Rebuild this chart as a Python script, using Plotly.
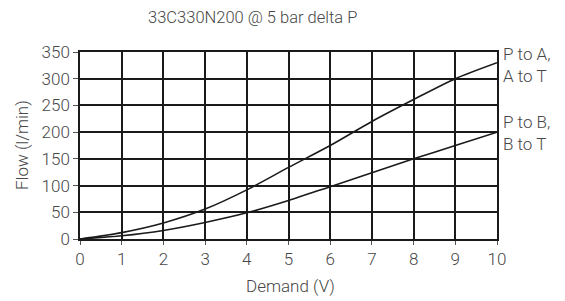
import plotly.graph_objects as go

demand = [0, 1, 2, 3, 4, 5, 6, 7, 8, 9, 10]
flow_p_to_a = [0, 12, 30, 56, 92, 134, 175, 220, 261, 300, 330]
flow_p_to_b = [0, 6, 16, 31, 49, 72, 98, 124, 150, 175, 200]
x_ticks = list(range(0, 11))
y_ticks = [0, 50, 100, 150, 200, 250, 300, 350]

TXT = "#474747"
FONT = "Roboto, Liberation Sans, sans-serif"
W = 300

fig = go.Figure()
for ys in (flow_p_to_a, flow_p_to_b):
    fig.add_trace(go.Scatter(x=demand, y=ys, mode="lines",
                             line=dict(color="#1a1a1a", width=1.6, shape="spline", smoothing=0.8),
                             showlegend=False, hoverinfo="skip"))

# page body has an 8px default margin, so margins are shifted by 8px
fig.update_layout(
    width=565, height=301,
    margin=dict(l=72, r=76, t=44, b=70, autoexpand=False),
    paper_bgcolor="white", plot_bgcolor="white",
    font=dict(family=FONT, color=TXT, size=17, weight=W),
    title=dict(text="33C330N200 @ 5 bar delta P", x=234 / 565, xanchor="center", xref="paper",
               y=1 - 9 / 301, yanchor="middle", font=dict(size=16.5, color=TXT, weight=W)),
    xaxis=dict(range=[0, 10], tickvals=x_ticks, showgrid=True, gridcolor="#1a1a1a", gridwidth=1.5,
               showline=True, linecolor="#1a1a1a", linewidth=1.5, mirror=True, automargin=False,
               ticks="outside", ticklen=4, tickcolor="#555", tickwidth=1,
               zeroline=False, tickfont=dict(size=17, color=TXT, weight=W)),
    yaxis=dict(range=[0, 350], tickvals=y_ticks, showgrid=True, gridcolor="#1a1a1a", gridwidth=1.5,
               showline=True, linecolor="#1a1a1a", linewidth=1.5, mirror=True, automargin=False,
               ticks="outside", ticklen=5, tickcolor="#555", tickwidth=1,
               zeroline=False, tickfont=dict(size=17, color=TXT, weight=W)),
)

# axis titles as light-weight annotations
fig.add_annotation(x=0.504, xref="paper", y=-0.251, yref="paper", text="Demand (V)",
                   showarrow=False, xanchor="center", yanchor="middle",
                   font=dict(size=17, color=TXT, weight=W))
fig.add_annotation(x=-0.139, xref="paper", y=0.503, yref="paper", text="Flow (l/min)",
                   showarrow=False, xanchor="center", yanchor="middle", textangle=-90,
                   font=dict(size=17, color=TXT, weight=W))

labels = [("P to A,<br>A to T", 0.930), ("P to B,<br>B to T", 0.567)]
for txt, py in labels:
    fig.add_annotation(x=1, xref="paper", xanchor="left", xshift=4, y=py, yref="paper",
                       text=txt, showarrow=False, align="left",
                       font=dict(size=17, color=TXT, weight=W), yanchor="middle")

fig.write_html("out.html")
